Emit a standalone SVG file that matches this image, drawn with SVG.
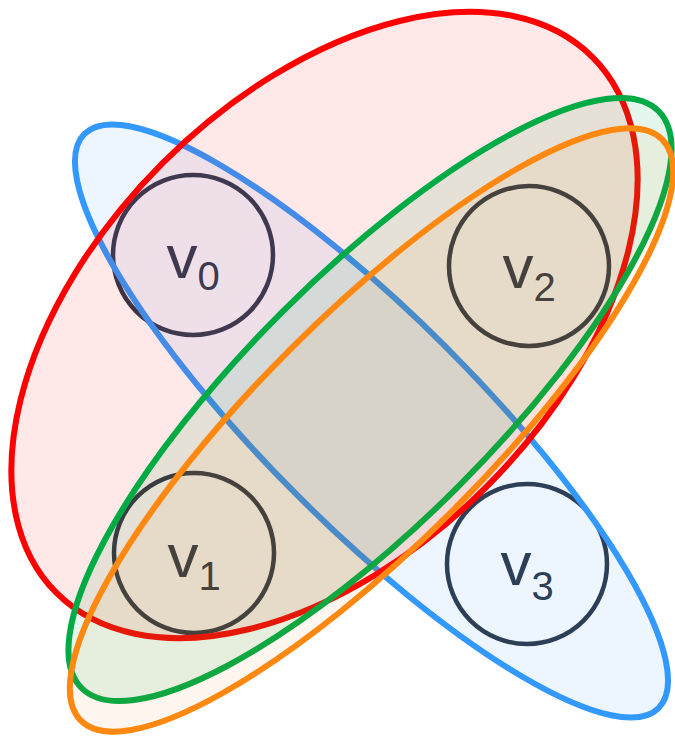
<svg xmlns="http://www.w3.org/2000/svg" width="675" height="736" viewBox="0 0 675 736">
  <style>
    .node circle { fill: #ffffff; stroke: #2d3748; stroke-width: 4.5; }
    .lbl { font-family: "Liberation Sans", Arial, sans-serif; font-size: 62px; fill: #2d3748; text-anchor: middle; }
    .sub { font-size: 40px; }
    .edge { stroke-width: 6; }
    #e-blue { fill: #3399ff; fill-opacity: 0.085; stroke: #3399ff; }
    #e-red { fill: #ff0000; fill-opacity: 0.09; stroke: #ff0000; }
    #e-green { fill: #00aa44; fill-opacity: 0.1; stroke: #00aa44; }
    #e-orange { fill: #ff8811; fill-opacity: 0.065; stroke: #ff8811; }
  </style>
  <rect width="675" height="736" fill="#ffffff"/>
  <g id="v0" class="node">
    <circle cx="193" cy="255" r="80"/>
    <text class="lbl" x="193" y="278">v<tspan class="sub" dy="12">0</tspan></text>
  </g>
  <g id="v1" class="node">
    <circle cx="194" cy="553" r="80"/>
    <text class="lbl" x="194" y="577">v<tspan class="sub" dy="13">1</tspan></text>
  </g>
  <g id="v2" class="node">
    <circle cx="529" cy="266" r="80"/>
    <text class="lbl" x="529" y="288">v<tspan class="sub" dy="13">2</tspan></text>
  </g>
  <g id="v3" class="node">
    <circle cx="527" cy="564" r="80"/>
    <text class="lbl" x="527" y="585">v<tspan class="sub" dy="15">3</tspan></text>
  </g>
  <g id="hyperedges">
    <ellipse id="e-blue" class="edge" cx="371.5" cy="421" rx="406" ry="105" transform="rotate(45 371.5 421)"/>
    <ellipse id="e-red" class="edge" cx="324.5" cy="325" rx="379" ry="229" transform="rotate(-45 324.5 325)"/>
    <ellipse id="e-green" class="edge" cx="370" cy="399.5" rx="408" ry="124" transform="rotate(-45 370 399.5)"/>
    <ellipse id="e-orange" class="edge" cx="371.5" cy="430" rx="411" ry="114.5" transform="rotate(-45 371.5 430)"/>
  </g>
</svg>
